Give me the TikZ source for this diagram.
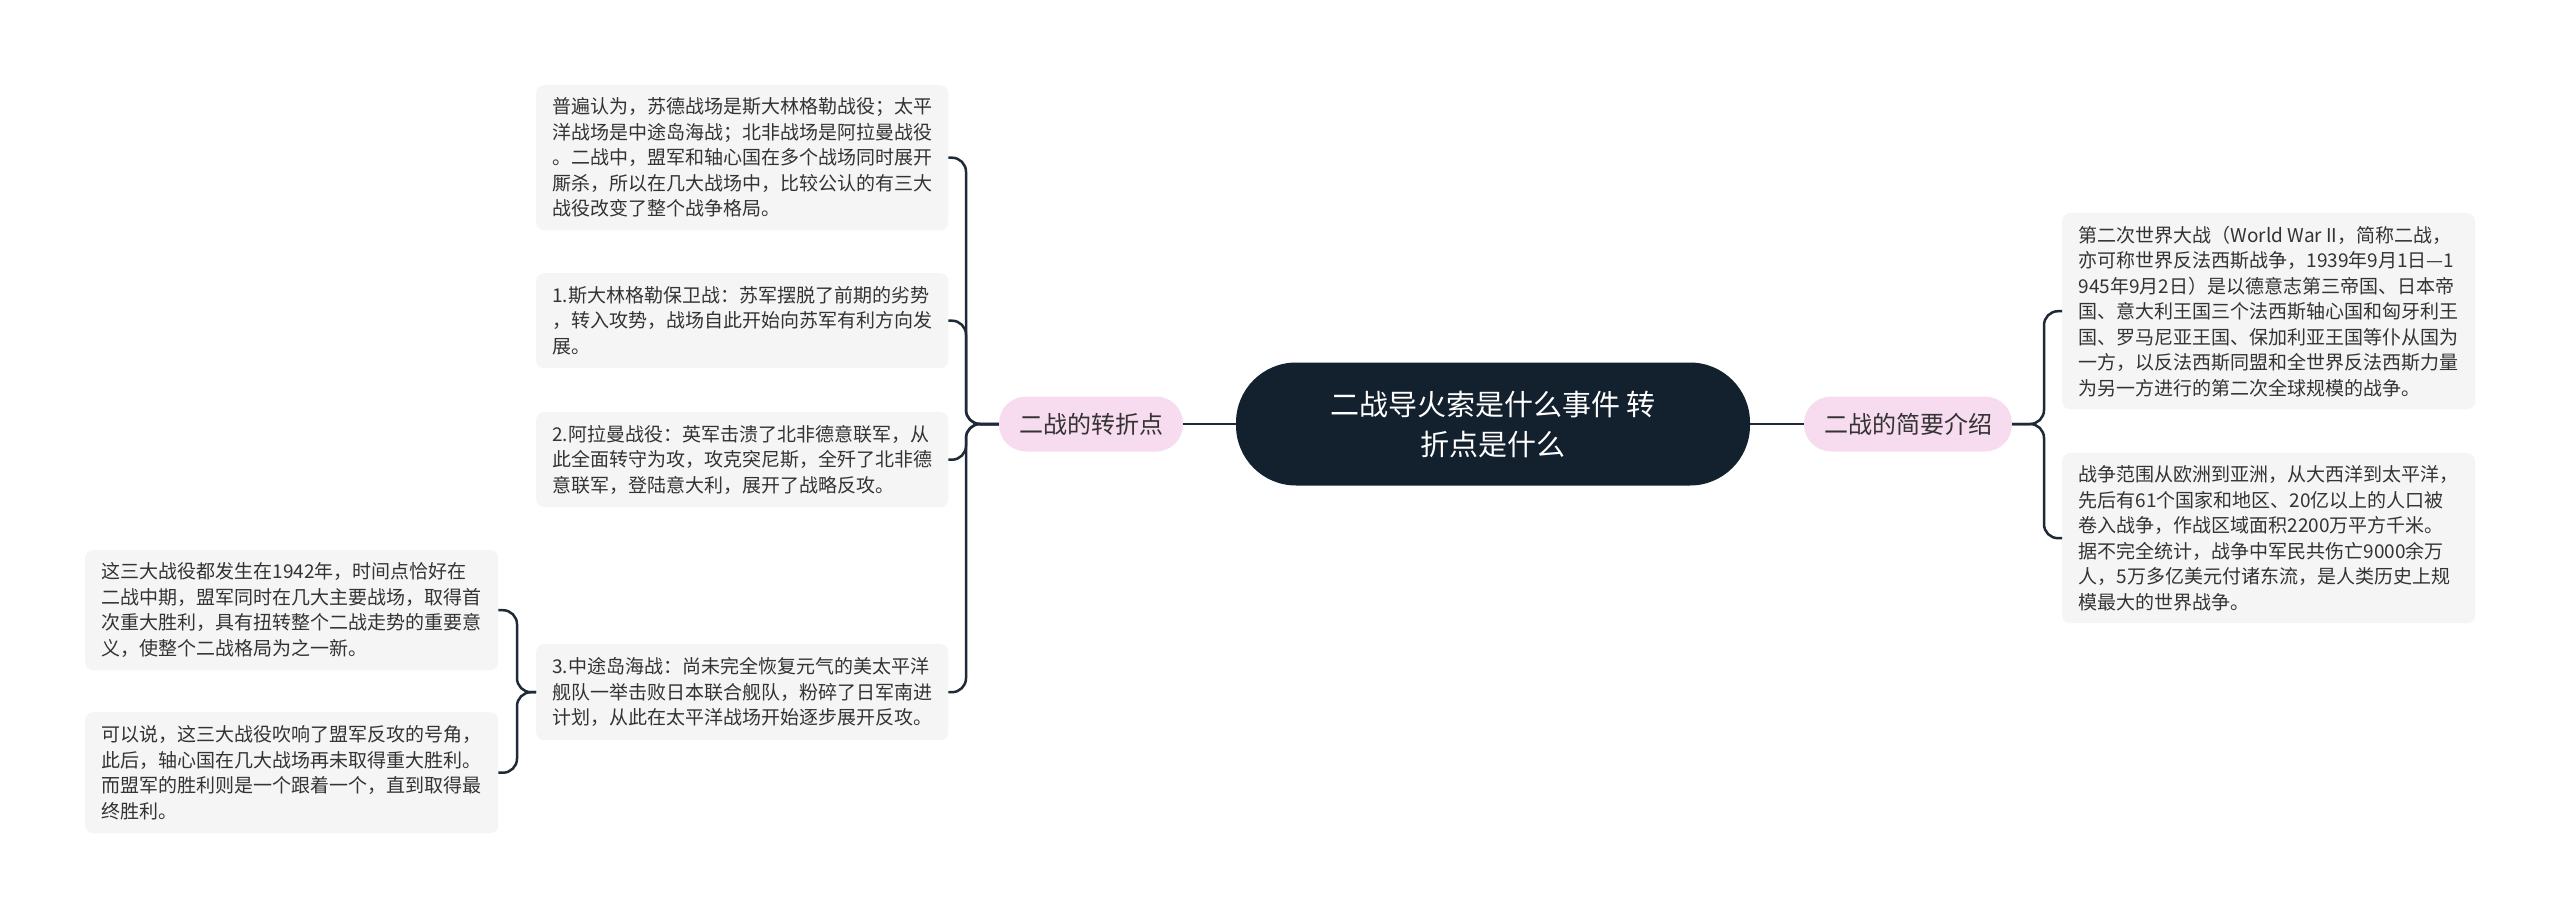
\documentclass[tikz,border=0pt]{standalone}
\usepackage{fontspec}
\setmainfont{Noto Sans CJK SC}
\definecolor{lineC}{HTML}{1E2A38}
\definecolor{leafC}{HTML}{F5F5F5}
\definecolor{pinkC}{HTML}{F7DCEF}
\definecolor{darkC}{HTML}{13202E}
\definecolor{txtC}{HTML}{333333}
\begin{document}
\begin{tikzpicture}[x=1pt,y=-1pt,
 leaf/.style={fill=leafC,rounded corners=8pt,anchor=north west,inner xsep=10pt,inner ysep=0pt,align=left,text=txtC,font=\fontsize{19}{25.5}\selectfont},
 branch/.style={fill=pinkC,rounded corners=27pt,minimum height=55pt,inner xsep=20pt,text=txtC,font=\fontsize{24}{30}\selectfont},
 conn/.style={draw=lineC,line width=2.5pt,rounded corners=14pt}]
\useasboundingbox[fill=white] (0,0) rectangle (2560,918);
\node[fill=darkC,rounded corners=60pt,minimum width=514pt,minimum height=123pt,text=white,align=center,font=\fontsize{29}{40}\selectfont] (c) at (1493,424) {二战导火索是什么事件 转\\折点是什么};
\node[branch] (r) at (1908,424) {二战的简要介绍};
\node[branch] (l) at (1091,424) {二战的转折点};
\node[leaf,minimum width=413pt,minimum height=196pt] (r1) at (2062,213) {第二次世界大战（World War II，简称二战，\\亦可称世界反法西斯战争，1939年9月1日—1\\945年9月2日）是以德意志第三帝国、日本帝\\国、意大利王国三个法西斯轴心国和匈牙利王\\国、罗马尼亚王国、保加利亚王国等仆从国为\\一方，以反法西斯同盟和全世界反法西斯力量\\为另一方进行的第二次全球规模的战争。};
\node[leaf,minimum width=413pt,minimum height=170pt] (r2) at (2062,453) {战争范围从欧洲到亚洲，从大西洋到太平洋，\\先后有61个国家和地区、20亿以上的人口被\\卷入战争，作战区域面积2200万平方千米。\\据不完全统计，战争中军民共伤亡9000余万\\人，5万多亿美元付诸东流，是人类历史上规\\模最大的世界战争。};
\node[leaf,minimum width=412pt,minimum height=145pt] (a) at (536,85) {普遍认为，苏德战场是斯大林格勒战役；太平\\洋战场是中途岛海战；北非战场是阿拉曼战役\\。二战中，盟军和轴心国在多个战场同时展开\\厮杀，所以在几大战场中，比较公认的有三大\\战役改变了整个战争格局。};
\node[leaf,minimum width=412pt,minimum height=95pt] (b) at (536,273) {1.斯大林格勒保卫战：苏军摆脱了前期的劣势\\，转入攻势，战场自此开始向苏军有利方向发\\展。};
\node[leaf,minimum width=412pt,minimum height=95pt] (cc) at (536,412) {2.阿拉曼战役：英军击溃了北非德意联军，从\\此全面转守为攻，攻克突尼斯，全歼了北非德\\意联军，登陆意大利，展开了战略反攻。};
\node[leaf,minimum width=412pt,minimum height=96pt] (d) at (536,644) {3.中途岛海战：尚未完全恢复元气的美太平洋\\舰队一举击败日本联合舰队，粉碎了日军南进\\计划，从此在太平洋战场开始逐步展开反攻。};
\node[leaf,minimum width=413pt,minimum height=120pt] (e) at (85,550) {这三大战役都发生在1942年，时间点恰好在\\二战中期，盟军同时在几大主要战场，取得首\\次重大胜利，具有扭转整个二战走势的重要意\\义，使整个二战格局为之一新。};
\node[leaf,minimum width=413pt,minimum height=121pt] (f) at (85,712) {可以说，这三大战役吹响了盟军反攻的号角，\\此后，轴心国在几大战场再未取得重大胜利。\\而盟军的胜利则是一个跟着一个，直到取得最\\终胜利。};
\draw[conn] (c.east) -- (r.west);
\draw[conn] (l.east) -- (c.west);
\foreach \n in {r1,r2} \draw[conn] (r.east) -- (2044,424) -- (2044,0 |- \n.west) -- (\n.west);
\foreach \n in {a,b,cc,d} \draw[conn] (l.west) -- (966,424) -- (966,0 |- \n.east) -- (\n.east);
\foreach \n in {e,f} \draw[conn] (d.west) -- (517,0 |- d.west) -- (517,0 |- \n.east) -- (\n.east);
\end{tikzpicture}
\end{document}
